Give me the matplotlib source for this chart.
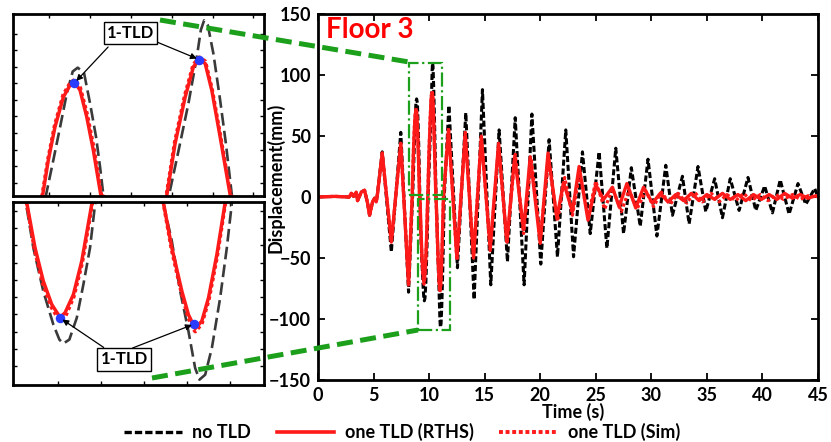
import matplotlib
matplotlib.use('Agg')
import matplotlib.pyplot as plt
from matplotlib.lines import Line2D
from matplotlib.patches import Rectangle
import numpy as np

W, H = 831, 442

# ---- data (time s, displacement mm) ----
black_t = [0, 1.5, 2.8, 3.0, 3.2, 3.44, 3.56, 3.89, 4.19, 4.46, 4.64, 4.91, 5.09, 5.24, 5.36,
           5.78, 6.6, 7.45, 8.15,
           8.515, 8.598, 8.674, 8.75, 8.818, 8.875, 8.947, 9.015, 9.083, 9.129, 9.166,
           9.248, 9.354, 9.461, 9.525, 9.567, 9.631, 9.71, 9.78, 9.851, 9.904,
           10.018, 10.132, 10.227, 10.273, 10.31, 10.352, 10.416, 10.492, 10.557, 10.625,
           10.72, 10.809, 10.897, 10.968, 11.014, 11.075, 11.146, 11.234, 11.305, 11.359,
           11.78, 12.55, 13.3, 14.05, 14.8, 15.55, 16.3, 17.05, 17.75, 18.55, 19.25, 20.05,
           20.8, 21.55, 22.3, 23.0, 23.8, 24.5, 25.3, 26.0, 26.8, 27.5, 28.2, 29.0, 29.7,
           30.5, 31.3, 31.9, 32.8, 33.4, 34.2, 34.9, 35.7, 36.4, 37.1, 37.9, 38.7, 39.4,
           40.2, 40.9, 41.6, 42.4, 43.2, 43.9, 44.7, 45]
black_y = [0, 0.5, 0, 3, 0.5, 4, -3, 4, 5.5, -5, -15, -4, -1, -4, 3,
           37, -45, 53, -78,
           0.6, 22.5, 43, 64, 78, 80.4, 77, 58, 37, 18, 0.6,
           -27.5, -53.6, -73.7, -82.7, -85.1, -82.7, -69.6, -49.6, -27.5, -1.4,
           28, 58, 87, 104, 110, 107, 89, 60, 33, 0.6,
           -23.4, -53.6, -77.7, -99.8, -106.8, -103.8, -87.7, -57.6, -27.5, -0.4,
           75, -58, 69, -84, 88, -72, 55, -53, 65, -72, 68, -55,
           47, -49, 55, -49, 37, -30, 37, -42, 40, -30, 24, -24, 31,
           -32, 26, -15, 17, -22, 25, -12, 15, -17, 15, -11, 16, -11,
           9, -13, 14, -14, 11, -6, 7, 0]

rths_t = [0, 1.5, 2.8, 3.0, 3.2, 3.44, 3.56, 3.89, 4.19, 4.46, 4.64, 4.91, 5.09, 5.24, 5.36,
          5.78, 6.6, 7.45, 8.15,
          8.477, 8.541, 8.617, 8.712, 8.788, 8.837, 8.901, 8.977, 9.052, 9.137,
          9.178, 9.266, 9.354, 9.444, 9.514, 9.532, 9.585, 9.674, 9.763, 9.869,
          9.887, 9.981, 10.095, 10.189, 10.257, 10.322, 10.398, 10.492, 10.606,
          10.631, 10.72, 10.827, 10.897, 10.961, 10.968, 11.039, 11.11, 11.199, 11.287,
          11.75, 12.5, 13.25, 14.0, 14.7, 15.5, 16.25, 17.0, 17.7, 18.5, 19.1, 20.0,
          20.7, 21.5, 22.1, 22.9, 23.5, 24.3, 25.0, 25.7, 26.5, 27.1, 27.8, 28.6, 29.3,
          30.1, 30.8, 31.5, 32.2, 32.9, 33.6, 34.3, 35.0, 35.7, 36.4, 37.1, 37.8, 38.5,
          39.2, 39.9, 40.6, 41.3, 42.0, 42.7, 43.4, 44.1, 44.8, 45]
rths_y = [0, 0.5, 0, 3, 0.5, 4, -3, 4, 5.5, -5, -15, -4, -1, -4, 3,
          36, -37, 44, -72,
          0.6, 22.5, 43.3, 62, 69.4, 71.4, 66.3, 49.6, 28.7, 0.6,
          -0.4, -27.5, -47.5, -61.6, -67.7, -69.3, -66.6, -55.6, -35.5, -1.4,
          0.6, 33, 62, 81, 85.4, 83, 66, 37, 0.6,
          -0.4, -27.5, -53.6, -67.7, -75.3, -76.1, -71.6, -57.6, -31.6, -0.4,
          55, -50, 51, -50, 49, -42, 44, -37, 33, -27, 33, -38,
          36, -17, 12, -12, 25, -19, 10, -2, 8, -8, 11, -9, 8,
          -5, 3, -4, 2, -3, 3, -3, 2, -2, 3, -2, 2, -3,
          2, -2, 2, -2, 3, -1, 2, -1, 1, 0]

sim_t = [0, 1.5, 2.8, 3.0, 3.2, 3.44, 3.56, 3.89, 4.19, 4.46, 4.64, 4.91, 5.09, 5.24, 5.36,
         5.78, 6.6, 7.45, 8.15,
         8.47, 8.535, 8.612, 8.708, 8.788, 8.84, 8.905, 8.985, 9.06, 9.145,
         9.175, 9.26, 9.35, 9.44, 9.51, 9.535, 9.59, 9.68, 9.77, 9.875,
         9.88, 9.975, 10.09, 10.186, 10.257, 10.325, 10.402, 10.498, 10.612,
         10.628, 10.715, 10.822, 10.893, 10.96, 10.97, 11.04, 11.115, 11.205, 11.292,
         11.75, 12.5, 13.25, 14.0, 14.7, 15.5, 16.25, 17.0, 17.75, 18.5, 19.2, 20.0,
         20.75, 21.55, 22.2, 22.9, 23.55, 24.3, 25.0, 25.8, 26.5, 27.3, 28.0, 28.7, 29.5,
         30.2, 30.9, 31.7, 32.4, 33.2, 33.9, 34.6, 35.4, 36.1, 36.8, 37.6, 38.3, 39.0,
         39.8, 40.5, 41.2, 41.9, 42.7, 43.4, 44.1, 45]
sim_y = [0, 0.5, 0, 3, 0.5, 4, -3, 4, 5.5, -5, -15, -4, -1, -4, 3,
         36, -37, 44, -72,
         0.6, 23, 44.5, 63.5, 71, 73, 68, 51, 30, 0.6,
         -0.4, -29, -49.5, -63.5, -70, -71.5, -69, -57, -36.5, -1.4,
         0.6, 34, 63.5, 82.5, 87, 84.5, 67, 37.5, 0.6,
         -0.4, -28.5, -55, -69.5, -77.5, -78, -73.5, -59, -32.5, -0.4,
         57, -52, 53, -48, 50, -44, 42, -38, 35, -30, 30, -33,
         30, -20, 16, -15, 20, -16, 13, -10, 7, -12, 6, -10, 5,
         -8, 4, -6, 3, -5, 4, -4, 3, -4, 2, -3, 3, -3,
         2, -3, 2, -2, 2, -2, 1, 0]

# red peaks marked "1-TLD" in the insets
tld_top_t = [8.837, 10.257]
tld_top_y = [70.8, 85.4]
tld_bot_t = [9.532, 10.961]
tld_bot_y = [-69.7, -73.3]

plt.rcParams['font.family'] = ['Lato', 'DejaVu Sans']
plt.rcParams['font.weight'] = 'bold'

GREEN = '#1ca01c'
RED = '#ff1a1a'


def fx(px):
    return px / W


def fy(py):
    return 1 - py / H


fig = plt.figure(figsize=(W / 100, H / 100), dpi=100)

# ---- main axes ----
ax = fig.add_axes([fx(318), fy(380), fx(818) - fx(318), fy(14) - fy(380)])
ax.plot(black_t, black_y, color='black', lw=2.2, dashes=(2.0, 0.9))
ax.plot(rths_t, rths_y, color=RED, lw=2.4)
ax.plot(sim_t, sim_y, color=RED, lw=2.3, dashes=(1.0, 0.8))
ax.set_xlim(0, 45)
ax.set_ylim(-150, 150)
ax.set_xticks(np.arange(0, 46, 5))
ax.set_yticks(np.arange(-150, 151, 50))
ax.tick_params(direction='in', top=True, right=True, length=5, width=1.3,
               labelsize=13, pad=5)
for s in ax.spines.values():
    s.set_linewidth(2)
ax.text(0.016, 0.992, 'Floor 3', transform=ax.transAxes, color='red',
        fontsize=20, va='top', ha='left')

# zoom boxes
ax.add_patch(Rectangle((8.15, 2), 2.98, 108, fill=False, ec=GREEN, lw=1.6,
                       ls='-.', zorder=6))
ax.add_patch(Rectangle((8.96, -109), 2.89, 107, fill=False, ec=GREEN, lw=1.6,
                       ls='-.', zorder=6))

fig.text(fx(573), fy(412), 'Time (s)', ha='center', va='center', fontsize=13)
fig.text(fx(275), fy(178), 'Displacement(mm)', rotation=90, ha='center',
         va='center', fontsize=13)


def inset(rect, xlim, ylim, xt, yt):
    a = fig.add_axes(rect)
    a.plot(black_t, black_y, color='#3a3a3a', lw=1.9, dashes=(4.8, 2.0))
    a.plot(rths_t, rths_y, color=RED, lw=2.5)
    a.plot(sim_t, sim_y, color=RED, lw=2.4, dashes=(1.0, 0.9))
    a.set_xlim(*xlim)
    a.set_ylim(*ylim)
    a.set_xticks(xt)
    a.set_yticks(yt)
    a.tick_params(direction='in', top=True, right=True, length=3, width=1,
                  labelleft=False, labelbottom=False)
    for s in a.spines.values():
        s.set_linewidth(2)
    return a


ax_top = inset([fx(13), fy(196), fx(264) - fx(13), fy(14) - fy(196)],
               (8.14, 10.99), (0, 114),
               np.linspace(8.55, 10.87, 6), np.linspace(8.3, 101.7, 10))
ax_bot = inset([fx(13), fy(385), fx(264) - fx(13), fy(202) - fy(385)],
               (9.032, 11.70), (-110, 0),
               np.linspace(9.51, 11.34, 5), np.linspace(-5.4, -98.6, 10))

ax_top.scatter(tld_top_t, tld_top_y, s=34, color='#2a3cff', zorder=5)
ax_bot.scatter(tld_bot_t, tld_bot_y, s=34, color='#2a3cff', zorder=5)


def tfrac(px, py):
    return ((px - 13) / 251, (196 - py) / 182)


def bfrac(px, py):
    return ((px - 13) / 251, (385 - py) / 183)


box = dict(boxstyle='square,pad=0.2', fc='white', ec='black', lw=1)
arrow = dict(arrowstyle='-|>', color='black', lw=0.9, mutation_scale=9)
ax_top.text(*tfrac(130.5, 33), '1-TLD', transform=ax_top.transAxes, ha='center',
            va='center', fontsize=12, bbox=box, zorder=7)
for t, y, start in zip(tld_top_t, tld_top_y, [(110, 45), (152, 40)]):
    ax_top.annotate('', xy=(t, y), xycoords='data', xytext=tfrac(*start),
                    textcoords='axes fraction', arrowprops=arrow, zorder=6)
ax_bot.text(*bfrac(124, 359.5), '1-TLD', transform=ax_bot.transAxes, ha='center',
            va='center', fontsize=12, bbox=box, zorder=7)
for t, y, start in zip(tld_bot_t, tld_bot_y, [(106, 349), (130, 349)]):
    ax_bot.annotate('', xy=(t, y), xycoords='data', xytext=bfrac(*start),
                    textcoords='axes fraction', arrowprops=arrow, zorder=6)

# connectors from the insets to the zoom boxes
for p0, p1 in [((160, 20), (409, 62)), ((152, 378), (418, 330))]:
    fig.add_artist(Line2D([fx(p0[0]), fx(p1[0])], [fy(p0[1]), fy(p1[1])],
                          transform=fig.transFigure, color=GREEN, lw=3.6,
                          dashes=(3.2, 1.5), zorder=10))

handles = [Line2D([], [], color='black', lw=2.4, dashes=(2.2, 0.9)),
           Line2D([], [], color=RED, lw=2.6),
           Line2D([], [], color=RED, lw=2.8, dashes=(1.0, 0.7))]
fig.legend(handles, ['no TLD', 'one TLD (RTHS)', 'one TLD (Sim)'], loc='center',
           bbox_to_anchor=(fx(402), fy(432)), ncol=3, frameon=False, fontsize=13,
           handlelength=3.2, handletextpad=0.6, columnspacing=1.4)

fig.savefig('out.png', dpi=100)
